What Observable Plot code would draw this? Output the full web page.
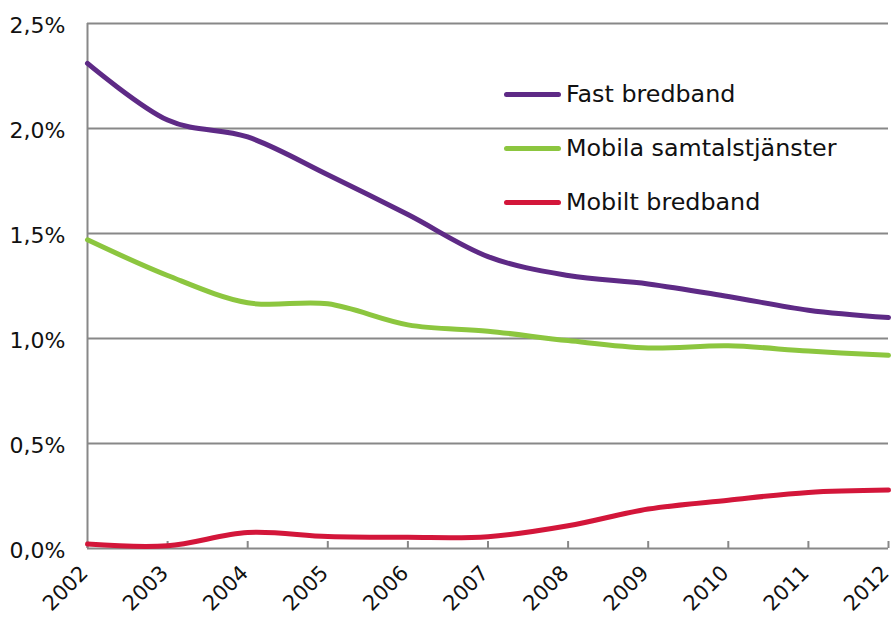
<!DOCTYPE html>
<html>
<head>
<meta charset="utf-8">
<script src="https://cdn.jsdelivr.net/npm/d3@7"></script>
<script src="https://cdn.jsdelivr.net/npm/@observablehq/plot@0.6"></script>
<style>
  html, body { margin: 0; padding: 0; background: #fff; }
  #chart { position: relative; width: 894px; height: 617px; font-family: Verdana, "DejaVu Sans", sans-serif; }
  #legend { position: absolute; left: 504px; top: 67px; }
  .row { display: flex; align-items: center; height: 54px; }
  .swatch { width: 57px; height: 5px; border-radius: 3px; margin-right: 5px; }
  .label { font-size: 23.8px; color: #111; white-space: nowrap; }
</style>
</head>
<body>
<div id="chart"></div>
<script>
// Years on the x axis
const years = [2002, 2003, 2004, 2005, 2006, 2007, 2008, 2009, 2010, 2011, 2012];

// Share (%) per service, one value per year
const fastBredband = [2.31, 2.04, 1.96, 1.78, 1.59, 1.39, 1.30, 1.26, 1.20, 1.135, 1.10];
const mobilaSamtal = [1.47, 1.30, 1.17, 1.165, 1.065, 1.035, 0.99, 0.955, 0.965, 0.94, 0.92];
const mobiltBredband = [0.021, 0.013, 0.076, 0.057, 0.053, 0.056, 0.108, 0.188, 0.23, 0.267, 0.278];

const seriesNames = ["Fast bredband", "Mobila samtalstjänster", "Mobilt bredband"];
const seriesColors = ["#5e2a86", "#8cc63f", "#d3163a"];
const seriesValues = [fastBredband, mobilaSamtal, mobiltBredband];

const yTicks = [0, 0.5, 1, 1.5, 2, 2.5];

const rows = seriesNames.flatMap((name, s) =>
  years.map((year, i) => ({name, year, value: seriesValues[s][i]}))
);

const fmtPct = v => v.toFixed(1).replace(".", ",") + "%";

const plot = Plot.plot({
  width: 894,
  height: 617,
  marginLeft: 87,
  marginRight: 6,
  marginTop: 23,
  marginBottom: 69,
  style: {fontFamily: 'Verdana, "DejaVu Sans", sans-serif', fontSize: "22px", color: "#111", background: "#fff"},
  x: {domain: [2002, 2012]},
  y: {domain: [0, 2.5]},
  color: {domain: seriesNames, range: seriesColors},
  marks: [
    Plot.ruleY(yTicks, {stroke: "#888", strokeWidth: 2, strokeOpacity: 1}),
    Plot.ruleX([2002], {stroke: "#888", strokeWidth: 2}),
    Plot.axisY({ticks: yTicks, tickSize: 0, tickPadding: 22, tickFormat: fmtPct, label: null, dy: 2}),
    Plot.axisX({ticks: years, tickSize: 7, dy: -7, text: null, stroke: "#888", strokeWidth: 2, label: null}),
    Plot.axisX({ticks: years, tickSize: 0, tickPadding: 21, dx: -3, tickFormat: d => String(d), tickRotate: -45,
                textAnchor: "end", lineAnchor: "middle", fontSize: 21, label: null}),
    Plot.line(rows, {x: "year", y: "value", z: "name", stroke: "name",
                     strokeWidth: 5, curve: "cardinal", tension: 0})
  ]
});

const chart = document.getElementById("chart");
chart.appendChild(plot);

const legend = document.createElement("div");
legend.id = "legend";
seriesNames.forEach((name, i) => {
  const row = document.createElement("div");
  row.className = "row";
  const sw = document.createElement("div");
  sw.className = "swatch";
  sw.style.background = seriesColors[i];
  const lab = document.createElement("span");
  lab.className = "label";
  lab.textContent = name;
  row.appendChild(sw);
  row.appendChild(lab);
  legend.appendChild(row);
});
chart.appendChild(legend);
</script>
</body>
</html>
